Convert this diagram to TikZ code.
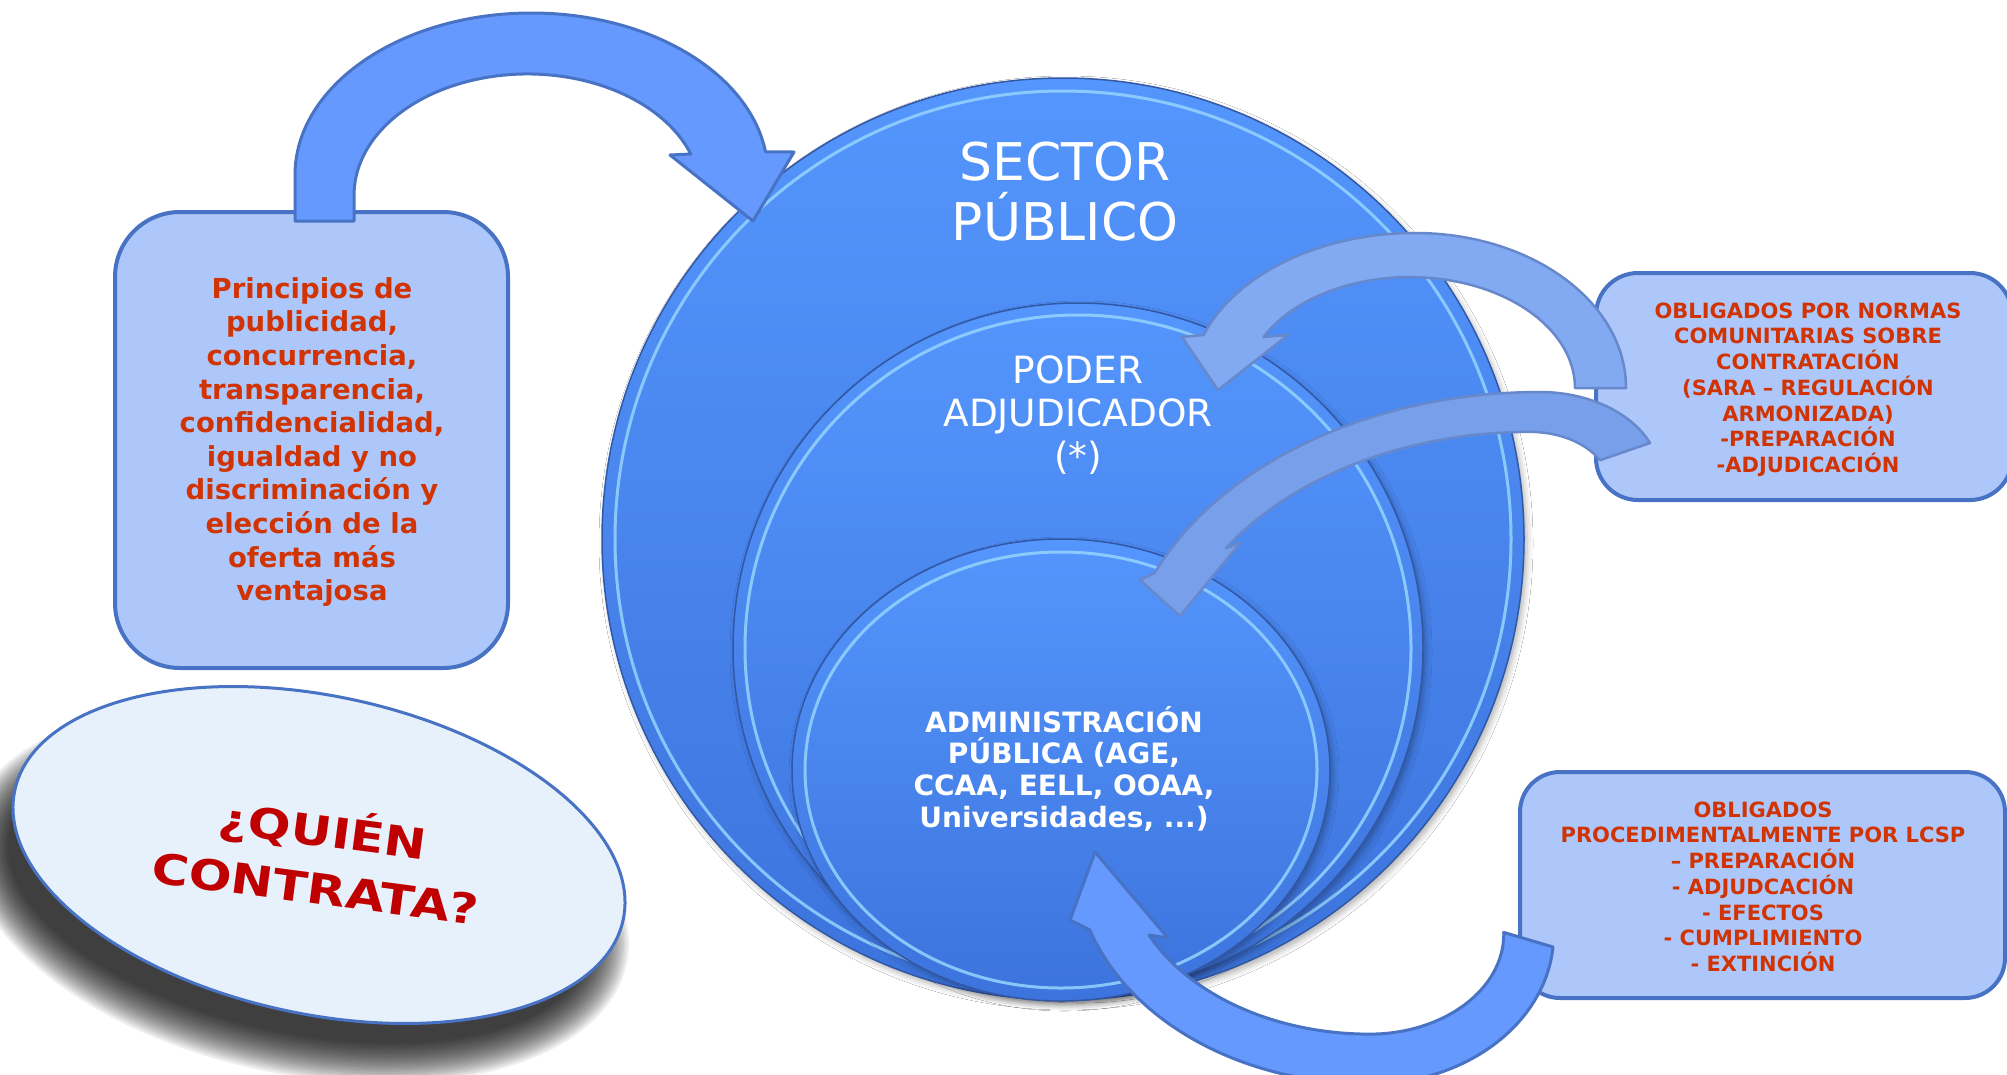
\documentclass[tikz,border=0pt]{standalone}
\usepackage{fontspec}
\setmainfont{DejaVu Sans}
\usetikzlibrary{shapes.geometric,shadows.blur,calc}
\definecolor{boxfill}{RGB}{174,199,251}
\definecolor{boxline}{RGB}{72,114,196}
\definecolor{txtred}{RGB}{208,52,4}
\definecolor{qred}{RGB}{192,0,0}
\definecolor{arrA}{RGB}{102,153,253}
\definecolor{arrB}{RGB}{130,170,242}
\definecolor{arrBline}{RGB}{104,136,204}
\definecolor{arrC}{RGB}{120,160,234}
\definecolor{ctop}{RGB}{84,150,253}
\definecolor{cbot}{RGB}{60,115,220}
\definecolor{cline}{RGB}{50,88,165}
\definecolor{crim}{RGB}{150,212,255}
\definecolor{ellfill}{RGB}{230,241,252}
\newcommand{\fsz}[2]{\fontsize{#1pt}{#2pt}\selectfont}
\newcommand{\tp}[1]{\rule{0pt}{#1pt}}
\begin{document}
\begin{tikzpicture}[x=1pt,y=-1pt,
  circ/.style={circle, inner sep=0pt, draw=cline, line width=1.5pt,
    top color=ctop, bottom color=cbot,
    blur shadow={shadow xshift=3pt, shadow yshift=-4pt, shadow blur radius=6pt, shadow opacity=30}},
  rim/.style={draw=crim, line width=3pt, opacity=0.85},
  rbox/.style={rectangle, draw=boxline, line width=4pt, fill=boxfill, inner sep=0pt},
  txt/.style={anchor=north, align=center, inner sep=0pt},
  arrowA/.style={fill=arrA, draw=boxline, line width=3pt, line join=round},
  arrowB/.style={fill=arrB, draw=arrBline, line width=2.5pt, line join=round},
  arrowC/.style={fill=arrC, draw=arrBline, line width=2.5pt, line join=round}]
\useasboundingbox (0,0) rectangle (2007,1074);
\clip (0,0) rectangle (2007,1074);
\fill[white] (0,0) rectangle (2007,1074);

% nested circles
\node[circ, minimum size=922pt] (sector) at (1063,539) {};
\draw[rim] (sector.center) circle [radius=448];
\node[circ, minimum size=690pt] (poder) at (1078,648) {};
\draw[rim] (poder.center) circle [radius=333];
\node[circ, ellipse, minimum width=538pt, minimum height=462pt] (admin) at (1061,770) {};
\draw[rim] (admin.center) ellipse [x radius=256, y radius=218];

% boxes
\node[rbox, minimum width=393pt, minimum height=456pt, rounded corners=65pt] (prin) at (311.5,440) {};
\node[rbox, minimum width=416pt, minimum height=227pt, rounded corners=42pt] (normas) at (1804,386.5) {};
\node[rbox, minimum width=485pt, minimum height=226pt, rounded corners=40pt] (lcsp) at (1762.5,885) {};

% shadow of the question ellipse
\foreach \k in {0,...,17}{
  \fill[black, opacity=0.07, rotate around={-12:(298,894)}] (298,894) ellipse [x radius={336-2.4*\k}, y radius={180-2.4*\k}];
}
% question ellipse
\node[ellipse, draw=boxline, line width=3pt, fill=ellfill, inner sep=0pt,
  minimum width=622pt, minimum height=318pt, rotate=-12] (quien) at (319,855) {};
\node[font=\bfseries\fsz{42}{58}, text=qred, align=center, inner sep=0pt, rotate=-7.5, xscale=1.2]
  (tquien) at (320,856) {¿QUIÉN\\CONTRATA?};

% arrow from principles box to sector
\filldraw[arrowA] (295,221) -- (295,175)
  arc[start angle=180, end angle=351.8, x radius=236.5, y radius=162]
  -- (794,152) -- (753,221) -- (670,155) -- (690.8,154)
  arc[start angle=340.2, end angle=180, x radius=173.5, y radius=121]
  -- (354,221) -- cycle;

% arrow from normas box to poder
\filldraw[arrowB] (1626,388)
  arc[start angle=0, end angle=-90, x radius=211, y radius=155]
  arc[start angle=-90, end angle=-160, x radius=225, y radius=155]
  -- (1182,337) -- (1218,390) -- (1288,335) -- (1263.5,337)
  arc[start angle=-152.6, end angle=0, x radius=165, y radius=111]
  -- cycle;

% arrow from normas box to admin
\filldraw[arrowC] (1650,443)
  arc[start angle=-23.6, end angle=-90, x radius=120, y radius=85]
  arc[start angle=-90, end angle=-156.6, x radius=420, y radius=300]
  -- (1140,580) -- (1180,616) -- (1240,543) -- (1226,548)
  arc[start angle=-146.4, end angle=-90, x radius=365, y radius=260]
  arc[start angle=-90, end angle=-29, x radius=80, y radius=55]
  -- cycle;

% arrow from lcsp box to admin
\filldraw[arrowA] (1095,852) -- (1168,938) -- (1149,935)
  arc[start angle=154.3, end angle=90, x radius=245, y radius=175]
  arc[start angle=90, end angle=-1, x radius=134, y radius=100]
  -- (1553,947)
  arc[start angle=5, end angle=90, x radius=184, y radius=150]
  arc[start angle=90, end angle=161.6, x radius=295, y radius=225]
  -- (1070,920) -- cycle;

% texts
\node[txt, text=white, font=\fsz{52}{60}] (tsector) at (1065,130) {\tp{50}SECTOR\\PÚBLICO};
\node[txt, text=white, font=\fsz{37.5}{43}] (tpoder) at (1078,347) {\tp{36}PODER\\ADJUDICADOR\\(*)};
\node[txt, text=white, font=\bfseries\fsz{28}{31.7}] (tadmin) at (1064,702) {\tp{30}ADMINISTRACIÓN\\PÚBLICA (AGE,\\CCAA, EELL, OOAA,\\Universidades, ...)};
\node[txt, text=txtred, font=\bfseries\fsz{27.5}{33.6}] (tprin) at (312,268) {\tp{30}Principios de\\publicidad,\\concurrencia,\\transparencia,\\confidencialidad,\\igualdad y no\\discriminación y\\elección de la\\oferta más\\ventajosa};
\node[txt, text=txtred, font=\bfseries\fsz{21}{25.7}] (tnormas) at (1808,296) {\tp{22}OBLIGADOS POR NORMAS\\COMUNITARIAS SOBRE\\CONTRATACIÓN\\(SARA – REGULACIÓN\\ARMONIZADA)\\-PREPARACIÓN\\-ADJUDICACIÓN};
\node[txt, text=txtred, font=\bfseries\fsz{21}{25.7}] (tlcsp) at (1763,795) {\tp{22}OBLIGADOS\\PROCEDIMENTALMENTE POR LCSP\\– PREPARACIÓN\\- ADJUDCACIÓN\\- EFECTOS\\- CUMPLIMIENTO\\- EXTINCIÓN};
\end{tikzpicture}
\end{document}
